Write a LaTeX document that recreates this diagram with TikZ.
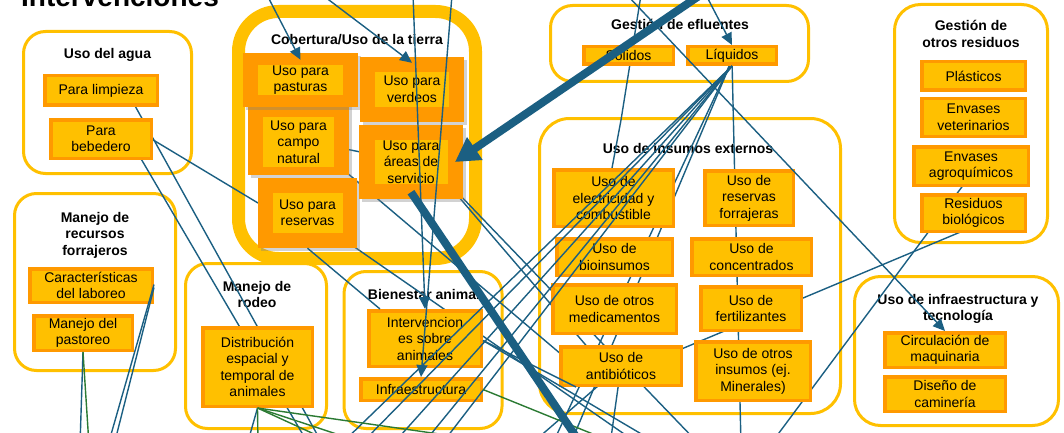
\documentclass[tikz,border=0pt]{standalone}
\usepackage{fontspec}
\setmainfont{Liberation Sans}
\usetikzlibrary{arrows.meta,shadows}
\definecolor{gold}{HTML}{FFC000}
\definecolor{orng}{HTML}{FF9900}
\definecolor{lnk}{HTML}{1B5F82}
\definecolor{grn}{HTML}{2B7A33}
\newcommand\boxfont{\fontsize{14}{16.5}\selectfont}
\newcommand\hdrfont{\fontsize{14}{16.5}\selectfont\bfseries}
\begin{document}
\begin{tikzpicture}[x=1pt,y=-1pt,
  grp/.style={draw=gold, line width=3pt, rounded corners=22pt, fill=white, inner sep=0pt},
  hdr/.style={font=\hdrfont, align=center, inner sep=0pt},
  ybox/.style={draw=orng, line width=3.5pt, fill=gold, align=center, font=\boxfont, inner sep=0pt,
    drop shadow={opacity=0.25, shadow xshift=2pt, shadow yshift=-2pt}},
  cobout/.style={fill=orng, inner sep=0pt, drop shadow={opacity=0.35, shadow xshift=3pt, shadow yshift=-3pt}},
  cobin/.style={fill=gold, inner sep=0pt, align=center, font=\boxfont},
  lk/.style={draw=lnk, line width=1.4pt},
  lkg/.style={draw=grn, line width=1.4pt},
  lka/.style={lk, -{Triangle[width=11pt,length=12pt]}},
  thk/.style={draw=lnk, line width=8pt},
]
\useasboundingbox (0,0) rectangle (1064,433);
\clip (0,0) rectangle (1064,433);

% title (its upper part runs past the top edge)
\node[anchor=base west, inner sep=0pt, font=\fontsize{28}{30}\selectfont\bfseries] (title) at (21,7) {Intervenciones};

% group frames
\node[grp, minimum width=168, minimum height=142] (gAgua) at (107.5,102.5) {};
\node[grp, minimum width=161, minimum height=177] (gForr) at (95,282) {};
\node[draw=gold, line width=13pt, rounded corners=40pt, fill=white, minimum width=237, minimum height=247] (gCob) at (357,135) {};
\node[grp, minimum width=258, minimum height=76] (gEfl) at (679.5,43.5) {};
\node[grp, minimum width=153, minimum height=238, rounded corners=26pt] (gRes) at (971,123.5) {};
\node[grp, minimum width=301, minimum height=295, rounded corners=30pt] (gIns) at (690,266) {};
\node[grp, minimum width=204, minimum height=149, rounded corners=26pt] (gInf) at (956.5,351) {};
\node[grp, minimum width=141, minimum height=165] (gRod) at (256,346) {};
\node[grp, minimum width=158, minimum height=157] (gBie) at (423,350) {};

% group headings (base = baseline of the last line)
\node[hdr, anchor=base] (hAgua) at (107.5,59) {Uso del agua};
\node[hdr, anchor=base] (hForr) at (95,255) {Manejo de\\recursos\\forrajeros};
\node[hdr, anchor=base] (hCob) at (357,45) {Cobertura/Uso de la tierra};
\node[hdr, anchor=base] (hEfl) at (680,30) {Gestión de efluentes};
\node[hdr, anchor=base] (hRes) at (971,47.5) {Gestión de\\otros residuos};
\node[hdr, anchor=base] (hIns) at (688,153) {Uso de insumos externos};
\node[hdr, anchor=base] (hInf) at (958,320.5) {Uso de infraestructura y\\tecnología};
\node[hdr, anchor=base] (hRod) at (257,307.5) {Manejo de\\rodeo};
\node[hdr, anchor=base] (hBie) at (424,299) {Bienestar animal};

% far ends of connectors that leave the picture
\coordinate (tPas) at (267,-5);
\coordinate (tVer) at (325,-3);
\coordinate (tInt) at (413,-5);
\coordinate (tInf) at (452,-5);
\coordinate (tLiq) at (706,-5);
\coordinate (tCir) at (627,-5);
\coordinate (tSol) at (641,-5);
\coordinate (tThk) at (718,-17);
\coordinate (bThk) at (585,450);
\coordinate (bLimp) at (323,445);
\coordinate (bBebe) at (309,445);
\coordinate (bL1) at (340,445);
\coordinate (bL2) at (360,445);
\coordinate (bL3) at (392,445);
\coordinate (bL4) at (422,445);
\coordinate (bL5) at (441,445);
\coordinate (bL6) at (552,445);
\coordinate (bL7) at (570,445);
\coordinate (bL8) at (741,445);
\coordinate (bAgro) at (770,445);
\coordinate (bCar1) at (108,445);
\coordinate (bCar2) at (114,445);
\coordinate (bPas1) at (80,445);
\coordinate (bPas2) at (89,445);
\coordinate (bD1) at (258,445);
\coordinate (bD2) at (247,445);
\coordinate (bD3) at (338,445);
\coordinate (bD4) at (370,445);
\coordinate (bD5) at (600,457);
\coordinate (bInfra) at (620,445);
\coordinate (bA1) at (700,445);
\coordinate (bA2) at (650,445);
\coordinate (bR1) at (640,445);
\coordinate (bI1) at (660,445);
\coordinate (bX1) at (530,445);
\coordinate (bX2) at (610,445);

% connectors running behind the boxes
\begin{scope}
\draw[lk] (tSol) -- (621,120) -- (612,168);
\draw[lk] (129,95) -- (bLimp);
\draw[lk] (130,140) -- (bBebe);
\draw[lk] (130,126) -- (258,203);
\draw[lk] (732,60) -- (bL6);
\draw[lk] (732,60) -- (bL7);
\draw[lk] (732,60) -- (bL8);
\draw[lk] (967,180) -- (bAgro);
\draw[lk] (660,358) -- (970,228);
\draw[lk] (300,140) -- (411,162);
\draw[lk] (455,190) -- (bA1);
\draw[lk] (440,175) -- (590,350);
\draw[lk] (330,230) -- (bR1);
\draw[lk] (320,150) -- (575,366);
\draw[lk] (621,366) -- (bX1);
\draw[lk] (621,366) -- (bX2);
\end{scope}

% boxes
\node[ybox, minimum width=112.5, minimum height=29.5] (limp) at (101,90.5) {Para limpieza};
\node[ybox, minimum width=100.5, minimum height=38.5] (bebe) at (101,139) {Para\\bebedero};
\node[ybox, minimum width=122.5, minimum height=33.5] (cara) at (91,285.5) {Características\\del laboreo};
\node[ybox, minimum width=98.5, minimum height=34.5] (mpas) at (83,333) {Manejo del\\pastoreo};
\node[ybox, minimum width=109.5, minimum height=78.5] (dist) at (257.5,367) {Distribución\\espacial y\\temporal de\\animales};
\node[ybox, minimum width=112.5, minimum height=55.5] (inter) at (425,338.5) {Intervencion\\es sobre\\animales};
\node[ybox, minimum width=120.5, minimum height=21.5] (infra) at (421,389.5) {Infraestructura};
\node[ybox, minimum width=89.5, minimum height=17.5] (sol) at (628.5,55.5) {Sólidos};
\node[ybox, minimum width=88.5, minimum height=17.5] (liq) at (732,55.5) {Líquidos};
\node[ybox, minimum width=103.5, minimum height=28.5] (plas) at (973.5,76) {Plásticos};
\node[ybox, minimum width=103.5, minimum height=37.5] (envv) at (973.5,117.5) {Envases\\veterinarios};
\node[ybox, minimum width=114.5, minimum height=38.5] (enva) at (971,166) {Envases\\agroquímicos};
\node[ybox, minimum width=103.5, minimum height=36.5] (resb) at (973.5,213) {Residuos\\biológicos};
\node[ybox, minimum width=119.5, minimum height=56.5] (elec) at (613.5,198) {Uso de\\electricidad y\\combustible};
\node[ybox, minimum width=115.5, minimum height=36.5] (bioi) at (614.5,257) {Uso de\\bioinsumos};
\node[ybox, minimum width=123.5, minimum height=48.5] (medi) at (614.5,309) {Uso de otros\\medicamentos};
\node[ybox, minimum width=120.5, minimum height=38.5] (anti) at (621,366) {Uso de\\antibióticos};
\node[ybox, minimum width=88.5, minimum height=54.5] (rfor) at (749,198) {Uso de\\reservas\\forrajeras};
\node[ybox, minimum width=119.5, minimum height=36.5] (conc) at (751.5,257) {Uso de\\concentrados};
\node[ybox, minimum width=100.5, minimum height=43.5] (fert) at (751,308.5) {Uso de\\fertilizantes};
\node[ybox, minimum width=114.5, minimum height=58.5] (otro) at (753,371) {Uso de otros\\insumos (ej.\\Minerales)};
\node[ybox, minimum width=120.5, minimum height=34.5] (circ) at (945,350) {Circulación de\\maquinaria};
\node[ybox, minimum width=120.5, minimum height=34.5] (cami) at (945,394) {Diseño de\\caminería};

% land-use boxes: orange block with a lighter label panel
\node[cobout, minimum width=101, minimum height=72] (camp) at (298.5,139) {};
\node[cobin, minimum width=71, minimum height=50] (camp-t) at (298.5,142) {Uso para\\campo\\natural};
\node[cobout, minimum width=115, minimum height=54] (past) at (300.5,80) {};
\node[cobin, minimum width=85, minimum height=24] (past-t) at (300.5,80) {Uso para\\pasturas};
\node[cobout, minimum width=99, minimum height=70] (rese) at (307.5,213) {};
\node[cobin, minimum width=70, minimum height=40] (rese-t) at (307.5,213) {Uso para\\reservas};
\node[cobout, minimum width=104, minimum height=65] (verd) at (412,89.5) {};
\node[cobin, minimum width=74, minimum height=35] (verd-t) at (412,89.5) {Uso para\\verdeos};
\node[cobout, minimum width=104, minimum height=74] (area) at (411,162) {};
\node[cobin, minimum width=73, minimum height=44] (area-t) at (411,162) {Uso para\\áreas de\\servicio};

% connectors drawn over the boxes
\draw[lka] (tPas) -- ([yshift=-7pt]past.north);
\draw[lka] (tVer) -- ([yshift=-6pt]verd.north);
\draw[lka] (tInt) -- (inter.north);
\draw[lka] (tInf) -- (infra.north);
\draw[lka] (tLiq) -- (liq.north);
\draw[lka] (tCir) -- (circ.north);
\draw[lk] (liq.south) -- (bL1);
\draw[lk] (liq.south) -- (bL2);
\draw[lk] (liq.south) -- (bL3);
\draw[lk] (liq.south) -- (bL4);
\draw[lk] (liq.south) -- (bL5);
\draw[lk] (rese.south) -- ([xshift=-45pt]inter.north);
\draw[lk] ([yshift=1pt]cara.east) -- (bCar1);
\draw[lk] ([yshift=-2pt]cara.east) -- (bCar2);
\draw[lk] (mpas.south) -- (bPas1);
\draw[lkg] (mpas.south) -- (bPas2);
\draw[lk] (dist.south) -- (bD2);
\draw[lkg] (dist.south) -- (bD1);
\draw[lkg] (dist.south) -- (bD3);
\draw[lkg] (dist.south) -- (bD4);
\draw[lkg] (dist.south) -- (bD5);
\draw[lkg] (infra.east) -- (bInfra);
\draw[lk] ([yshift=-2pt]inter.east) -- ([xshift=-45pt]anti.south);
\draw[lk] ([yshift=-2pt]inter.east) -- (bI1);
\draw[thk, -{Triangle[width=26pt,length=24pt]}] (tThk) -- ([xshift=44pt]area.center);
\draw[thk] ([yshift=7pt]area.south) -- (bThk);
\end{tikzpicture}
\end{document}
